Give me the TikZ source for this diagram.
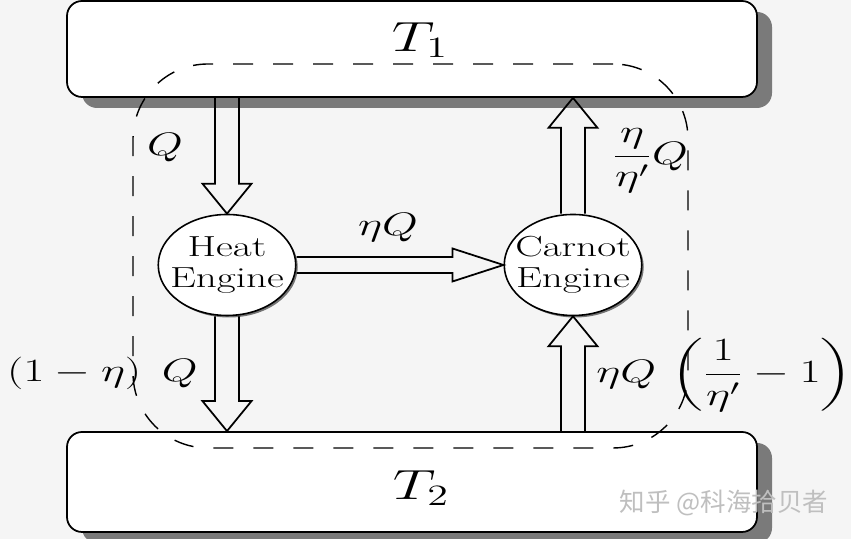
\RequirePackage{fix-cm}
\documentclass[tikz,border=0pt]{standalone}
\usepackage{amsmath}
\usepackage{graphicx}
\usepackage{fontspec}
\newfontfamily\cjk{Noto Sans CJK SC}
\usetikzlibrary{calc,shapes.geometric,shadows}

% the reference is stretched sideways, so the text is too
\newcommand{\wide}[1]{\scalebox{1.42}[1]{#1}}
% hollow double arrow: start, tip, shaft half width, head half width, head length
\newcommand{\fatarrow}[5]{%
  \coordinate (fa base) at ($(#2)!#5!(#1)$);
  \draw[fat] ($(#1)!#3!90:(#2)$) -- ($(fa base)!#3!90:(#2)$) -- ($(fa base)!#4!90:(#2)$)
    -- (#2) -- ($(fa base)!#4!-90:(#2)$) -- ($(fa base)!#3!-90:(#2)$) -- ($(#1)!#3!-90:(#2)$);
}

\begin{document}
\begin{tikzpicture}[
    reservoir/.style={draw, line width=1pt, fill=white, rounded corners=0.3cm,
      minimum width=13.8cm, minimum height=#1,
      drop shadow={shadow xshift=0.3cm, shadow yshift=-0.22cm, fill=black!52, opacity=1}},
    engine/.style={ellipse, draw, line width=0.9pt, fill=white, align=center,
      minimum width=2.75cm, minimum height=2.02cm, inner xsep=-0.6cm, inner ysep=0pt,
      font=\fontsize{16.5}{17.5}\selectfont,
      drop shadow={shadow xshift=0.04cm, shadow yshift=-0.04cm, fill=black!55, opacity=1}},
    cyclebox/.style={draw, line width=0.8pt, dash pattern=on 0.4cm off 0.4cm,
      rounded corners=1.5cm, minimum width=11.1cm, minimum height=7.68cm},
    temp/.style={font=\fontsize{24}{28}\selectfont, inner sep=0pt},
    lbl/.style={font=\fontsize{18.5}{22}\selectfont, inner sep=0pt},
    fat/.style={line width=1pt, line join=miter},
    watermark/.style={font=\cjk\fontsize{14.5}{16}\selectfont, text=black!25, inner sep=0pt}
  ]
  \path[fill=black!4, use as bounding box] (0,0) rectangle (17.02,10.78);

  % reservoirs
  \node[reservoir=1.92cm] (hot) at (8.24,9.80) {};
  \node[reservoir=2.0cm] (cold) at (8.24,1.14) {};
  \node[temp] (thot) at (8.40,9.98) {\wide{$T_1$}};
  \node[temp] (tcold) at (8.42,1.02) {\wide{$T_2$}};

  % the combined system
  \node[cyclebox] (system) at (8.21,5.66) {};

  % engines
  \node[engine] (heat) at (4.54,5.48) {\wide{Heat}\\\wide{Engine}};
  \node[engine] (carnot) at (11.46,5.48) {\wide{Carnot}\\\wide{Engine}};

  % heat flows
  \coordinate (q in) at (heat.north |- hot.south);
  \coordinate (q out) at (heat.south |- cold.north);
  \coordinate (q pump) at (carnot.south |- cold.north);
  \coordinate (q up) at (carnot.north |- hot.south);
  \fatarrow{q in}{heat.north}{0.24cm}{0.49cm}{0.6cm}
  \fatarrow{heat.south}{q out}{0.24cm}{0.49cm}{0.6cm}
  \fatarrow{heat.east}{carnot.west}{0.16cm}{0.33cm}{1.02cm}
  \fatarrow{q pump}{carnot.south}{0.24cm}{0.49cm}{0.6cm}
  \fatarrow{carnot.north}{q up}{0.24cm}{0.49cm}{0.6cm}

  % labels
  \node[lbl] (lq in) at (3.30,7.82) {\wide{$Q$}};
  \node[lbl] (lwork) at (7.76,6.22) {\wide{$\eta Q$}};
  \node[lbl] (lq up) at (13.0,7.56) {\wide{$\dfrac{\eta}{\eta'}Q$}};
  \node[lbl, anchor=east] (lq out) at (3.96,3.32) {\wide{$(1-\eta)\,\;Q$}};
  \node[lbl, anchor=west] (lq pump) at (11.92,3.28) {\wide{$\eta Q\,\left(\dfrac{1}{\eta'}-1\right)$}};

  \node[watermark] (credit) at (14.48,0.72) {知乎 @科海拾贝者};
\end{tikzpicture}
\end{document}
